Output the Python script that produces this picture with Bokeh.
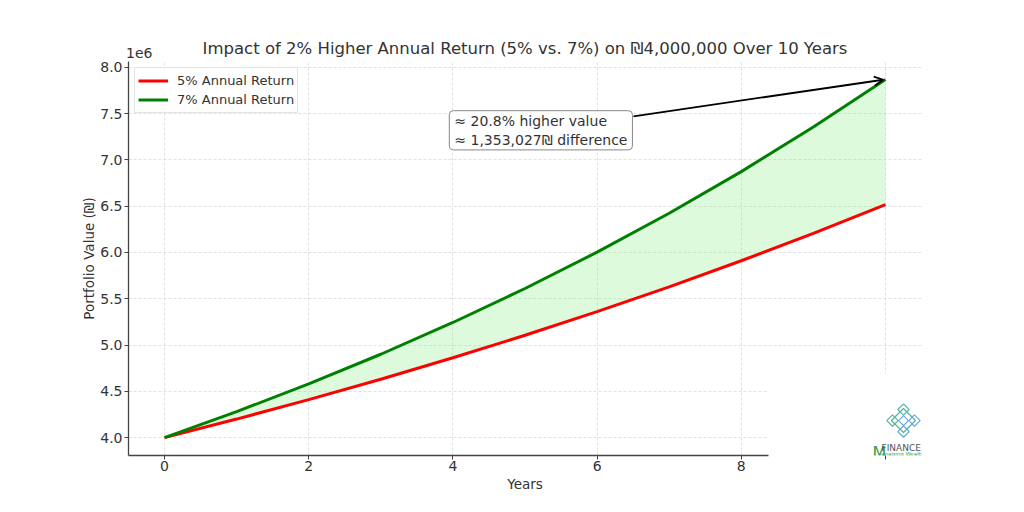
from bokeh.plotting import figure
from bokeh.models import (Label, Arrow, OpenHead, Range1d, FixedTicker,
                          CustomJSTickFormatter, LinearAxis)
from bokeh.embed import file_html
from bokeh.resources import INLINE

# ---- data ----
years = [0, 1, 2, 3, 4, 5, 6, 7, 8, 9, 10]
value_5pct = [4000000, 4200000, 4410000, 4630500, 4862025, 5105126,
              5360383, 5628402, 5909822, 6205313, 6515579]
value_7pct = [4000000, 4280000, 4579600, 4900172, 5243184, 5610207,
              6002921, 6423126, 6872745, 7353837, 7868606]
series_labels = ["5% Annual Return", "7% Annual Return"]
x_ticks = [0, 2, 4, 6, 8, 10]
y_ticks = [4000000, 4500000, 5000000, 5500000, 6000000, 6500000, 7000000, 7500000, 8000000]
title_text = "Impact of 2% Higher Annual Return (5% vs. 7%) on \u20aa4,000,000 Over 10 Years"
note_text = "\u2248 20.8% higher value\n\u2248 1,353,027\u20aa difference"
offset_text = "1e6"

FONT = "DejaVu Sans"
TXT = "#333333"

p = figure(width=1008, height=496, output_backend="svg", toolbar_location=None,
           title_location=None,
           x_range=Range1d(-0.5, 10.5), y_range=Range1d(3806600, 8062000),
           min_border_left=128, min_border_right=87, min_border_top=61, min_border_bottom=41)
p.outline_line_color = None
p.background_fill_color = "white"

# grid
for g in (p.xgrid[0], p.ygrid[0]):
    g.grid_line_color = "#d9d9d9"
    g.grid_line_dash = "3 2"
    g.grid_line_width = 0.8
p.xgrid[0].bounds = (-0.5, 10.5)

# axes
p.xaxis.ticker = FixedTicker(ticks=x_ticks)
p.xaxis.formatter = CustomJSTickFormatter(code="return tick >= 10 ? '' : tick.toFixed(0);")
p.yaxis.ticker = FixedTicker(ticks=y_ticks)
p.yaxis.formatter = CustomJSTickFormatter(code="return (tick/1e6).toFixed(1);")
p.xaxis.bounds = (-0.5, 8.38)
for ax in (p.xaxis[0], p.yaxis[0]):
    ax.axis_line_color = "#444444"
    ax.axis_line_width = 1.3
    ax.major_tick_line_color = "#444444"
    ax.major_tick_out = 4
    ax.major_tick_in = 0
    ax.minor_tick_line_color = None
    ax.major_label_text_font = FONT
    ax.major_label_text_font_size = "14px"
    ax.major_label_text_color = TXT
    ax.axis_label_text_font = FONT
    ax.axis_label_text_font_size = "13.5px"
    ax.axis_label_text_font_style = "normal"
    ax.axis_label_text_color = TXT
p.xaxis.axis_label = "Years"
p.yaxis.axis_label = "Portfolio Value (\u20aa)"
p.xaxis.major_label_standoff = 1
p.yaxis.major_label_standoff = 2
p.xaxis.axis_label_standoff = 2
p.yaxis.axis_label_standoff = 0

# top axis carrying the "1e6" offset text and the title
top = LinearAxis(ticker=FixedTicker(ticks=[-0.35]),
                 formatter=CustomJSTickFormatter(code="return '%s';" % offset_text))
top.axis_line_color = None
top.major_tick_line_color = None
top.minor_tick_line_color = None
top.major_tick_out = 0
top.major_tick_in = 0
top.major_label_standoff = 4
top.major_label_text_font = FONT
top.major_label_text_font_size = "14px"
top.major_label_text_color = TXT
top.axis_label = title_text
top.axis_label_text_font = FONT
top.axis_label_text_font_size = "16.5px"
top.axis_label_text_font_style = "normal"
top.axis_label_text_color = TXT
top.axis_label_standoff = -13
p.add_layout(top, "above")

# fill between
p.varea(x=years, y1=value_5pct, y2=value_7pct, fill_color="#90ee90", fill_alpha=0.3)

# lines
p.line(years, value_5pct, line_color="red", line_width=3, legend_label=series_labels[0])
p.line(years, value_7pct, line_color="green", line_width=3, legend_label=series_labels[1])

lg = p.legend[0]
lg.location = "top_left"
lg.margin = 6
lg.padding = 3
lg.spacing = 0
lg.glyph_width = 30
lg.glyph_height = 19
lg.label_height = 19
lg.label_standoff = 9
lg.label_text_font = FONT
lg.label_text_font_size = "13px"
lg.label_text_color = TXT
lg.border_line_color = "#cccccc"
lg.border_line_width = 1
lg.background_fill_alpha = 0.85

# annotation with arrow
p.add_layout(Arrow(end=OpenHead(size=9, line_color="black", line_width=1.8),
                   x_start=6.505, y_start=7470000, x_end=9.97, y_end=7865000,
                   line_color="black", line_width=1.8))
p.add_layout(Label(x=3.95, y=7319000, text=note_text, text_font=FONT, text_font_size="14px",
                   text_color=TXT, text_baseline="middle", text_align="left",
                   background_fill_color="white", background_fill_alpha=1.0,
                   border_line_color="#888888", border_line_width=1,
                   padding=(5, 2), border_radius=4))

# watermark overlay (bottom-right)
p.quad(left=[8.38], right=[11], bottom=[3000000], top=[4690000],
       fill_color="white", fill_alpha=0.96, line_color=None)

# logo (knot + wordmark)
kx, ky = 10.25, 4184000
dx, dy = 0.153, 119000
p.scatter(x=[kx], y=[ky], marker="square", size=17, angle=0.785398,
          fill_color=None, line_color="#5ab3a8", line_width=1.3)
p.scatter(x=[kx], y=[ky], marker="square", size=7, angle=0.785398,
          fill_color=None, line_color="#6aa7e0", line_width=1.1)
p.scatter(x=[kx - dx, kx + dx, kx, kx], y=[ky, ky, ky + dy, ky - dy], marker="square",
          size=8, angle=0.785398, fill_color=None,
          line_color=["#58b88f", "#6aa7e0", "#5ab3a8", "#5aa9c8"], line_width=1.2)
p.add_layout(Label(x=9.82, y=3838000, text="M", text_font=FONT, text_font_size="16px",
                   text_color="#2e9e48", text_align="left", text_baseline="alphabetic"))
p.add_layout(Label(x=9.945, y=3885000, text="FINANCE", text_font=FONT, text_font_size="9px",
                   text_color="#555555", text_align="left", text_baseline="alphabetic"))
p.add_layout(Label(x=9.945, y=3827000, text="anaging Wealth", text_font=FONT,
                   text_font_size="5.5px", text_color="#2e9e48", text_align="left",
                   text_baseline="alphabetic"))

open("out.html", "w").write(file_html(p, INLINE))
